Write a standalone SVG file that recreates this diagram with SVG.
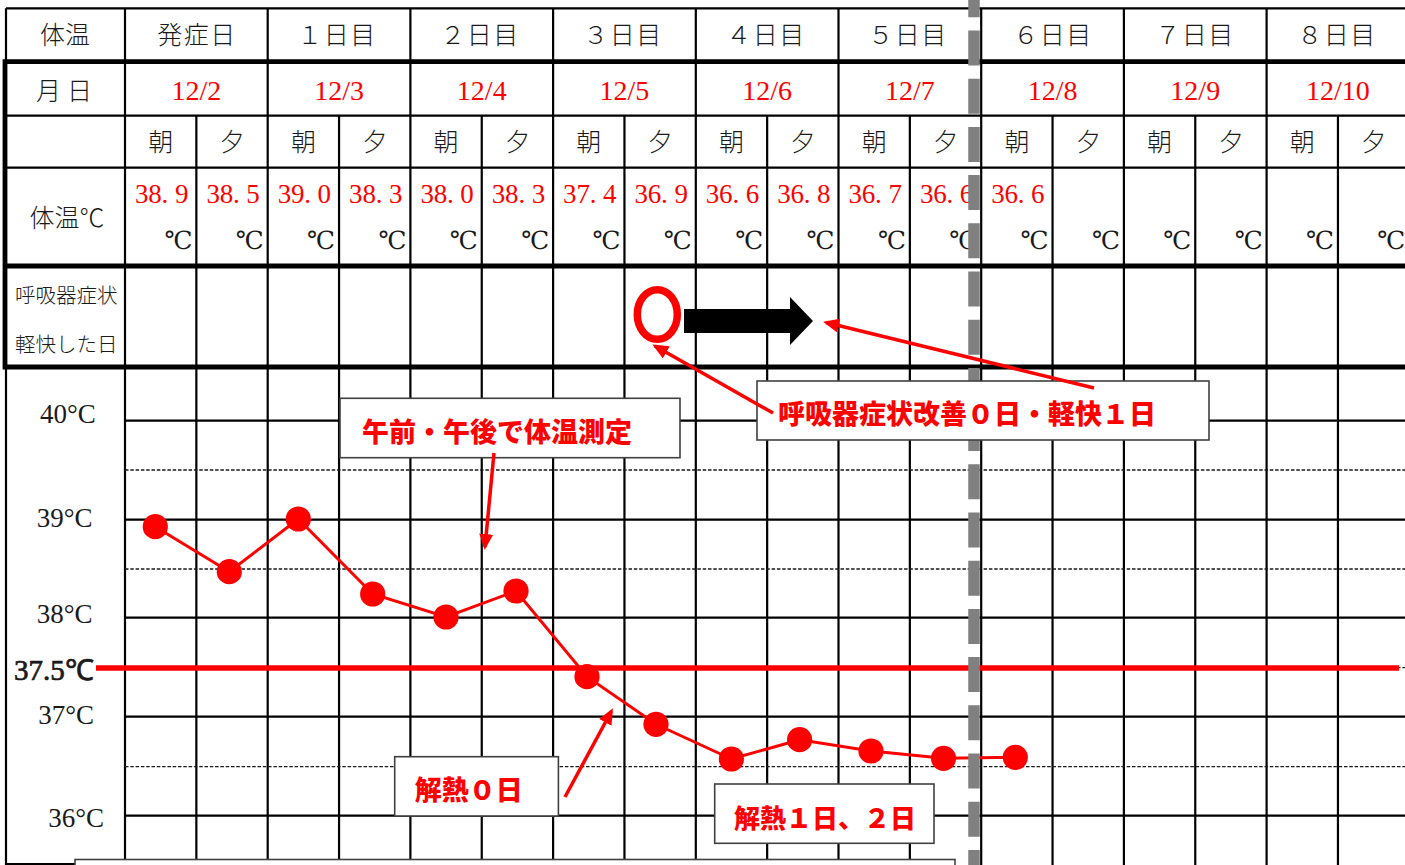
<svg xmlns="http://www.w3.org/2000/svg" width="1405" height="865" viewBox="0 0 1405 865">
<style>
.jp{font-family:"Noto Sans CJK JP",sans-serif;fill:#1a1a1a;font-weight:300}
.hd{font-size:25px;text-anchor:middle}
.day{letter-spacing:1.5px}
.ser{font-family:"Liberation Serif","Noto Sans CJK JP",serif}
.date{font-size:28px;fill:#ff0000;text-anchor:middle}
.tmp{font-size:27px;fill:#ff0000}
.deg{font-family:"Liberation Serif","DejaVu Serif","Noto Sans CJK JP",serif;font-size:25px;fill:#1a1a1a;text-anchor:end}
.ax{font-family:"Liberation Serif",serif;font-size:27px;fill:#1a1a1a}
.thin{stroke:#000;stroke-width:2.2;fill:none}
.thick{stroke:#000;stroke-width:4.8;fill:none}
.dash{stroke:#1a1a1a;stroke-width:1.3;stroke-dasharray:3.5 1.8;fill:none}
.box{fill:#fff;stroke:#404040;stroke-width:1.6}
.call{font-family:"Noto Sans CJK JP",sans-serif;font-weight:900;fill:#ff0000;font-size:27px}
.arr{stroke:#ff0000;stroke-width:3.5;fill:none;marker-end:url(#ah)}
</style>
<defs>
<marker id="ah" markerUnits="userSpaceOnUse" markerWidth="18" markerHeight="14" refX="13" refY="7" orient="auto">
<path d="M0,0 L16,7 L0,14 Z" fill="#ff0000"/>
</marker>
</defs>
<rect width="1405" height="865" fill="#fff"/>

<g id="table-grid">
<path class="thin" d="M6,8.3 H1405 M6,8.3 V62"/>
<path class="thick" d="M3,61.7 H1405 M3,266 H1405 M3,367 H1405 M5,59.3 V369.4"/>
<path class="thin" d="M5,115.7 H1405 M5,167.7 H1405"/>
<path class="thin" d="M6,369 V864 H75"/>
<path class="thin" d="M125,8.3 V865 M267.7,8.3 V865 M410.4,8.3 V865 M553.1,8.3 V865 M695.8,8.3 V865 M838.5,8.3 V865 M981.2,8.3 V865 M1123.9,8.3 V865 M1266.6,8.3 V865"/>
<path class="thin" d="M196.35,115.7 V865 M339.05,115.7 V865 M481.75,115.7 V865 M624.45,115.7 V865 M767.15,115.7 V865 M909.85,115.7 V865 M1052.55,115.7 V865 M1195.25,115.7 V865 M1337.95,115.7 V865"/>
</g>

<g id="chart-grid">
<path class="thin" d="M125,420.7 H1405 M125,519.7 H1405 M125,617.7 H1405 M125,716.7 H1405 M125,815.7 H1405"/>
<path class="dash" d="M125,470 H1405 M125,569 H1405 M125,667.7 H1405 M125,766.7 H1405"/>
</g>

<g id="header-text">
<text class="jp hd" x="65" y="43.5">体温</text>
<text class="jp hd day" x="197" y="43.5">発症日</text>
<text class="jp hd day" x="337" y="43.5">１日目</text>
<text class="jp hd day" x="480" y="43.5">２日目</text>
<text class="jp hd day" x="623" y="43.5">３日目</text>
<text class="jp hd day" x="766" y="43.5">４日目</text>
<text class="jp hd day" x="908" y="43.5">５日目</text>
<text class="jp hd day" x="1053" y="43.5">６日目</text>
<text class="jp hd day" x="1195" y="43.5">７日目</text>
<text class="jp hd day" x="1337" y="43.5">８日目</text>

<text class="jp hd" x="67" y="100" style="letter-spacing:6px">月日</text>
<text class="ser date" x="196.35" y="100">12/2</text>
<text class="ser date" x="339.05" y="100">12/3</text>
<text class="ser date" x="481.75" y="100">12/4</text>
<text class="ser date" x="624.45" y="100">12/5</text>
<text class="ser date" x="767.15" y="100">12/6</text>
<text class="ser date" x="909.85" y="100">12/7</text>
<text class="ser date" x="1052.55" y="100">12/8</text>
<text class="ser date" x="1195.25" y="100">12/9</text>
<text class="ser date" x="1337.95" y="100">12/10</text>

<text class="jp hd" x="160.7" y="151">朝</text>
<text class="jp hd" x="232" y="151">夕</text>
<text class="jp hd" x="303.4" y="151">朝</text>
<text class="jp hd" x="374.7" y="151">夕</text>
<text class="jp hd" x="446.1" y="151">朝</text>
<text class="jp hd" x="517.4" y="151">夕</text>
<text class="jp hd" x="588.8" y="151">朝</text>
<text class="jp hd" x="660.1" y="151">夕</text>
<text class="jp hd" x="731.5" y="151">朝</text>
<text class="jp hd" x="802.8" y="151">夕</text>
<text class="jp hd" x="874.2" y="151">朝</text>
<text class="jp hd" x="945.5" y="151">夕</text>
<text class="jp hd" x="1016.9" y="151">朝</text>
<text class="jp hd" x="1088.2" y="151">夕</text>
<text class="jp hd" x="1159.6" y="151">朝</text>
<text class="jp hd" x="1230.9" y="151">夕</text>
<text class="jp hd" x="1302.3" y="151">朝</text>
<text class="jp hd" x="1373.6" y="151">夕</text>

<text class="jp hd" x="67" y="227">体温℃</text>
<text class="ser tmp" x="135 148.3 161.6 174.9" y="203">38.9</text>
<text class="ser tmp" x="206.4 219.7 233 246.3" y="203">38.5</text>
<text class="ser tmp" x="277.7 291 304.3 317.6" y="203">39.0</text>
<text class="ser tmp" x="349.1 362.4 375.7 389" y="203">38.3</text>
<text class="ser tmp" x="420.4 433.7 447 460.3" y="203">38.0</text>
<text class="ser tmp" x="491.8 505.1 518.4 531.7" y="203">38.3</text>
<text class="ser tmp" x="563.1 576.4 589.7 603" y="203">37.4</text>
<text class="ser tmp" x="634.5 647.8 661.1 674.4" y="203">36.9</text>
<text class="ser tmp" x="705.8 719.1 732.4 745.7" y="203">36.6</text>
<text class="ser tmp" x="777.2 790.5 803.8 817.1" y="203">36.8</text>
<text class="ser tmp" x="848.5 861.8 875.1 888.4" y="203">36.7</text>
<text class="ser tmp" x="919.9 933.2 946.5 959.8" y="203">36.6</text>
<text class="ser tmp" x="991.2 1004.5 1017.8 1031.1" y="203">36.6</text>

<text class="deg" x="192.35" y="249">℃</text>
<text class="deg" x="263.7" y="249">℃</text>
<text class="deg" x="335.05" y="249">℃</text>
<text class="deg" x="406.4" y="249">℃</text>
<text class="deg" x="477.75" y="249">℃</text>
<text class="deg" x="549.1" y="249">℃</text>
<text class="deg" x="620.45" y="249">℃</text>
<text class="deg" x="691.8" y="249">℃</text>
<text class="deg" x="763.15" y="249">℃</text>
<text class="deg" x="834.5" y="249">℃</text>
<text class="deg" x="905.85" y="249">℃</text>
<text class="deg" x="977.2" y="249">℃</text>
<text class="deg" x="1048.55" y="249">℃</text>
<text class="deg" x="1119.9" y="249">℃</text>
<text class="deg" x="1191.25" y="249">℃</text>
<text class="deg" x="1262.6" y="249">℃</text>
<text class="deg" x="1333.95" y="249">℃</text>
<text class="deg" x="1405.3" y="249">℃</text>

<text class="jp" x="15" y="303" style="font-size:20.5px">呼吸器症状</text>
<text class="jp" x="15" y="351.5" style="font-size:20.5px">軽快した日</text>
</g>

<g id="axis-labels">
<text class="ax" x="40" y="423">40°C</text>
<text class="ax" x="36.7" y="526.7">39°C</text>
<text class="ax" x="36.7" y="623">38°C</text>
<text class="ax" x="38.3" y="724">37°C</text>
<text class="ax" x="48.3" y="826.7">36°C</text>
<text class="ax" x="14" y="680" style="font-size:29px;stroke:#1a1a1a;stroke-width:0.7">37.5℃</text>
</g>

<g id="threshold-line">
<line x1="96" y1="668" x2="1399" y2="668" stroke="#ff0000" stroke-width="5.5"/>
</g>

<g id="temperature-series">
<polyline fill="none" stroke="#ff0000" stroke-width="3" points="155.3,526.7 229.3,571.7 298.3,519 372.7,594 446,617 516,591 587,676.7 656,724.3 731.4,759 799.6,739.7 871,751 943.5,758.3 1015.3,757.3"/>
<g fill="#ff0000">
<circle cx="155.3" cy="526.7" r="12.6"/>
<circle cx="229.3" cy="571.7" r="12.6"/>
<circle cx="298.3" cy="519" r="12.6"/>
<circle cx="372.7" cy="594" r="12.6"/>
<circle cx="446" cy="617" r="12.6"/>
<circle cx="516" cy="591" r="12.6"/>
<circle cx="587" cy="676.7" r="12.6"/>
<circle cx="656" cy="724.3" r="12.6"/>
<circle cx="731.4" cy="759" r="12.6"/>
<circle cx="799.6" cy="739.7" r="12.6"/>
<circle cx="871" cy="751" r="12.6"/>
<circle cx="943.5" cy="758.3" r="12.6"/>
<circle cx="1015.3" cy="757.3" r="12.6"/>
</g>
</g>

<g id="divider">
<line x1="974" y1="-17.7" x2="974" y2="870" stroke="#808080" stroke-width="11.5" stroke-dasharray="35 13.2"/>
</g>

<g id="bottom-box">
<rect class="box" x="75" y="859.5" width="880" height="20"/>
</g>

<g id="callout-measure">
<rect class="box" x="340" y="398.3" width="340" height="59.4"/>
<text class="call" x="362" y="442">午前・午後で体温測定</text>
</g>

<g id="callout-respiratory">
<rect class="box" x="757" y="381" width="452" height="59"/>
<text class="call" x="778" y="424">呼吸器症状改善０日・軽快１日</text>
</g>

<g id="callout-fever0">
<rect class="box" x="394.7" y="756.7" width="163.7" height="59.3"/>
<text class="call" x="414.7" y="800">解熱０日</text>
</g>

<g id="callout-fever12">
<rect class="box" x="714.7" y="784" width="219.3" height="59.3"/>
<text class="call" x="734" y="828" style="font-size:26px">解熱１日、２日</text>
</g>

<g id="connectors">
<path class="arr" d="M494,453 L485,547"/>
<path class="arr" d="M565,797 L611.5,711"/>
<path class="arr" d="M1094,388 L826,322.5"/>
<path class="arr" d="M773,413 L655,346"/>
</g>

<g id="symptom-marks">
<ellipse cx="657.3" cy="314.5" rx="20" ry="24.8" fill="none" stroke="#ff0000" stroke-width="7.5"/>
<polygon points="684,309 790,309 790,297 813,321 790,345 790,333 684,333" fill="#000"/>
</g>
</svg>
